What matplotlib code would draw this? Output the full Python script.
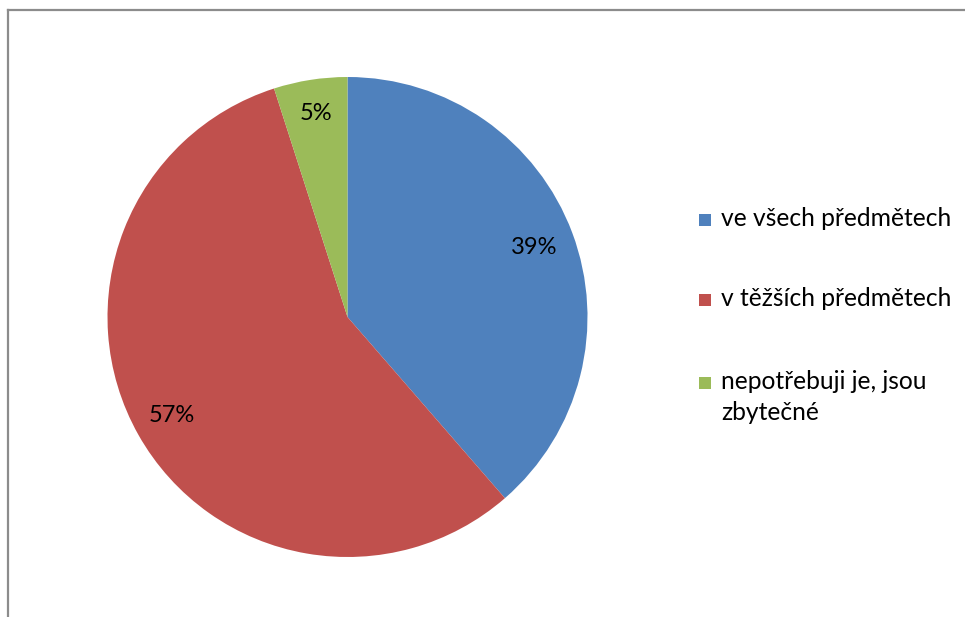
import matplotlib
matplotlib.use("Agg")
import matplotlib.pyplot as plt
import numpy as np
from matplotlib.patches import Rectangle
from matplotlib.lines import Line2D

categories = ["ve všech předmětech", "v těžších předmětech", "nepotřebuji je, jsou\nzbytečné"]
values = [39, 57, 5]
value_labels = ["39%", "57%", "5%"]
colors = ["#4F81BD", "#C0504D", "#9BBB59"]

W, H = 965, 617
FONT = ["Lato", "DejaVu Sans"]
FS_LABEL = 17
FS_LEGEND = 17.7

fig = plt.figure(figsize=(W / 100, H / 100), dpi=100)
fig.patch.set_facecolor("white")

# chart frame (top and left edges visible)
fig.add_artist(Line2D([8 / W, 8 / W], [0, 1 - 9.5 / H], transform=fig.transFigure,
                      color="#8c8c8c", lw=1.6))
fig.add_artist(Line2D([8 / W, 1], [1 - 9.5 / H, 1 - 9.5 / H], transform=fig.transFigure,
                      color="#8c8c8c", lw=1.6))

cx, cy, r = 347.5, 317, 240
ax = fig.add_axes([(cx - r) / W, (H - cy - r) / H, 2 * r / W, 2 * r / H])
wedges, _ = ax.pie(values, colors=colors, startangle=90, counterclock=False,
                   radius=1, wedgeprops=dict(linewidth=0))
ax.set_xlim(-1, 1)
ax.set_ylim(-1, 1)
ax.set_aspect("equal")
ax.axis("off")

# percentage labels inside the wedges
total = sum(values)
start = 90.0
dists = [0.83, 0.84, 0.86]
for v, lab, d in zip(values, value_labels, dists):
    span = 360.0 * v / total
    mid = np.deg2rad(start - span / 2)
    ax.text(d * np.cos(mid), d * np.sin(mid), lab, ha="center", va="center",
            fontsize=FS_LABEL, family=FONT, color="black")
    start -= span

# legend
rows_y = [220, 300, 383]
line_step = 31
for cat, col, y in zip(categories, colors, rows_y):
    fig.add_artist(Rectangle((699 / W, 1 - (y + 6) / H), 12 / W, 12 / H,
                             transform=fig.transFigure, facecolor=col, edgecolor="none"))
    for i, line in enumerate(cat.split("\n")):
        fig.text(721 / W, 1 - (y + i * line_step + 6) / H, line, ha="left",
                 va="baseline", fontsize=FS_LEGEND, family=FONT, color="black")

fig.savefig("out.png", dpi=100)
